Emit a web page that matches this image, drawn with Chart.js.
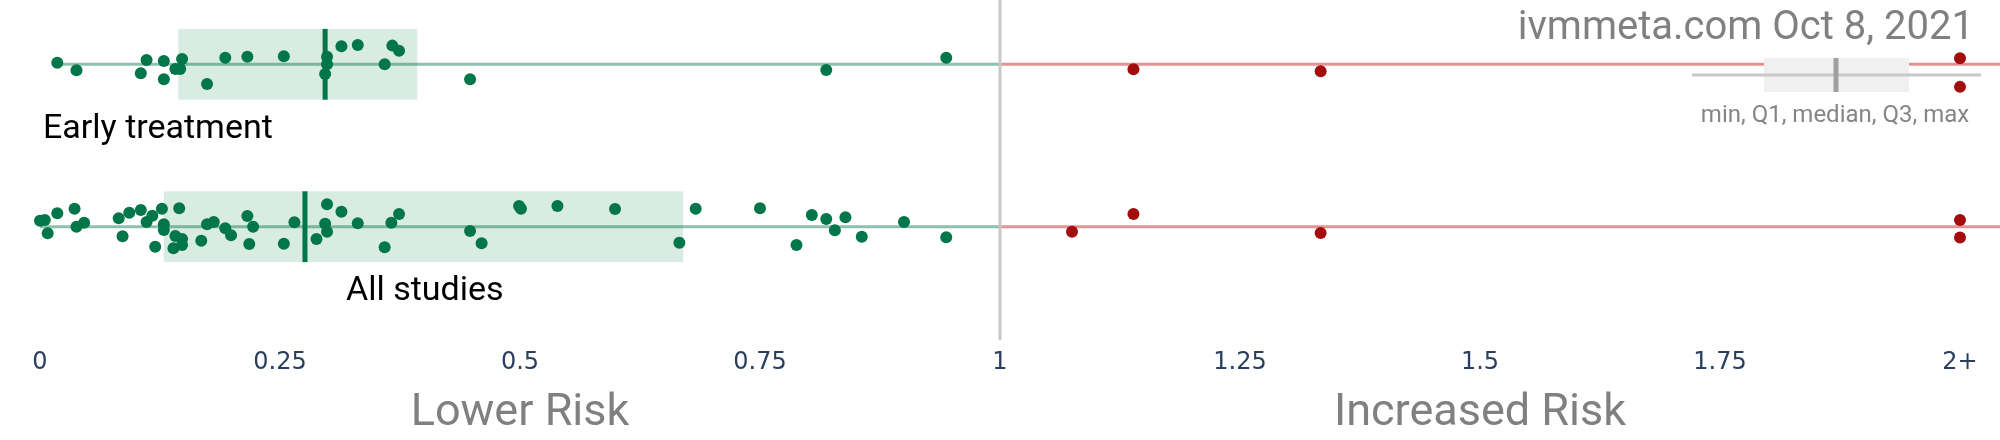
<!DOCTYPE html>
<html>
<head>
<meta charset="utf-8">
<script src="https://cdn.jsdelivr.net/npm/chart.js@4"></script>
<style>
  html, body { margin: 0; padding: 0; background: #fff; }
  #wrap { width: 2000px; height: 440px; position: relative; }
</style>
</head>
<body>
<div id="wrap"><canvas id="chart"></canvas></div>
<script>
// Risk ratio of each study, with a small vertical jitter (fraction of row spacing)
const tickValues = [0, 0.25, 0.5, 0.75, 1, 1.25, 1.5, 1.75, 2];
const tickLabels = ['0', '0.25', '0.5', '0.75', '1', '1.25', '1.5', '1.75', '2+'];
const rowLabels = ['Early treatment', 'All studies'];

const earlyRR = [0.018, 0.038, 0.111, 0.105, 0.129, 0.129, 0.148, 0.141, 0.146, 0.174,
  0.193, 0.216, 0.254, 0.299, 0.299, 0.297, 0.314, 0.331, 0.359, 0.367,
  0.374, 0.448, 0.819, 0.944, 1.139, 1.334, 2, 2];
const earlyJitter = [-0.010, 0.037, -0.026, 0.055, -0.020, 0.092, -0.033, 0.029, 0.029, 0.121,
  -0.041, -0.047, -0.049, -0.047, 0, 0.060, -0.111, -0.119, 0, -0.115,
  -0.084, 0.092, 0.035, -0.041, 0.031, 0.043, -0.037, 0.139];

const allRR = [0.000, 0.005, 0.008, 0.018, 0.036, 0.038, 0.046, 0.082, 0.086, 0.093,
  0.105, 0.111, 0.117, 0.120, 0.127, 0.129, 0.129, 0.145, 0.141, 0.148,
  0.139, 0.148, 0.168, 0.174, 0.181, 0.193, 0.199, 0.216, 0.222, 0.218,
  0.254, 0.265, 0.288, 0.299, 0.297, 0.299, 0.314, 0.331, 0.359, 0.366,
  0.374, 0.448, 0.460, 0.499, 0.501, 0.539, 0.599, 0.666, 0.683, 0.750,
  0.788, 0.804, 0.819, 0.828, 0.839, 0.856, 0.900, 0.944, 1.075, 1.139,
  1.334, 2, 2];
const allJitter = [-0.037, -0.041, 0.041, -0.083, -0.111, 0, -0.025, -0.052, 0.059, -0.086,
  -0.103, -0.029, -0.068, 0.123, -0.111, -0.015, 0.020, -0.113, 0.057, 0.076,
  0.133, 0.113, 0.086, -0.015, -0.029, 0.010, 0.053, -0.066, 0, 0.107,
  0.105, -0.027, 0.076, -0.138, -0.018, 0.031, -0.092, -0.021, 0.127, -0.025,
  -0.078, 0.026, 0.102, -0.127, -0.111, -0.127, -0.109, 0.099, -0.111, -0.113,
  0.113, -0.072, -0.047, 0.022, -0.058, 0.062, -0.029, 0.065, 0.031, -0.078,
  0.039, -0.041, 0.066];

// [Q1, median, Q3]
const earlyBox = [0.144, 0.297, 0.393];
const allBox = [0.129, 0.276, 0.670];

const GREEN = '#00764a';
const RED = '#a30d0d';
const BOX_HALF = 0.218;

const rows = [
  { rr: earlyRR, jitter: earlyJitter, box: earlyBox },
  { rr: allRR, jitter: allJitter, box: allBox }
];

function pointColor(ctx) {
  const p = ctx.raw;
  return p && p.x >= 1 ? RED : GREEN;
}

const decor = {
  id: 'decor',
  beforeDatasetsDraw(chart) {
    const { ctx, chartArea: area } = chart;
    const x = chart.scales.x, y = chart.scales.y;
    ctx.save();

    rows.forEach((row, i) => {
      // IQR box
      ctx.fillStyle = 'rgba(0,128,64,0.15)';
      const top = y.getPixelForValue(i - BOX_HALF), bot = y.getPixelForValue(i + BOX_HALF);
      ctx.fillRect(x.getPixelForValue(row.box[0]), top,
        x.getPixelForValue(row.box[2]) - x.getPixelForValue(row.box[0]), bot - top);

      // range lines
      const yc = y.getPixelForValue(i);
      ctx.lineWidth = 3;
      ctx.strokeStyle = 'rgba(0,118,74,0.45)';
      ctx.beginPath();
      ctx.moveTo(x.getPixelForValue(Math.min(...row.rr)), yc);
      ctx.lineTo(x.getPixelForValue(1), yc);
      ctx.stroke();
      ctx.strokeStyle = 'rgba(200,40,40,0.5)';
      ctx.beginPath();
      ctx.moveTo(x.getPixelForValue(1), yc);
      ctx.lineTo(area.right, yc);
      ctx.stroke();
    });

    // no-effect line
    ctx.strokeStyle = '#c8c8c8';
    ctx.lineWidth = 3;
    ctx.beginPath();
    ctx.moveTo(x.getPixelForValue(1), area.top);
    ctx.lineTo(x.getPixelForValue(1), area.bottom);
    ctx.stroke();

    // medians
    rows.forEach((row, i) => {
      ctx.strokeStyle = GREEN;
      ctx.lineWidth = 5;
      ctx.beginPath();
      ctx.moveTo(x.getPixelForValue(row.box[1]), y.getPixelForValue(i - BOX_HALF));
      ctx.lineTo(x.getPixelForValue(row.box[1]), y.getPixelForValue(i + BOX_HALF));
      ctx.stroke();
    });

    // legend inset
    ctx.fillStyle = '#f0f0f0';
    ctx.fillRect(1764, 58, 145, 34);
    ctx.strokeStyle = '#c8c8c8';
    ctx.lineWidth = 3;
    ctx.beginPath();
    ctx.moveTo(1692, 75);
    ctx.lineTo(1981, 75);
    ctx.stroke();
    ctx.strokeStyle = '#a0a0a0';
    ctx.lineWidth = 5;
    ctx.beginPath();
    ctx.moveTo(1836, 58);
    ctx.lineTo(1836, 92);
    ctx.stroke();

    ctx.fillStyle = '#858585';
    ctx.font = '24px Roboto';
    ctx.textAlign = 'center';
    ctx.textBaseline = 'alphabetic';
    ctx.fillText('min, Q1, median, Q3, max', 1835, 122);

    ctx.fillStyle = '#808080';
    ctx.font = '40px Roboto';
    ctx.textAlign = 'right';
    ctx.fillText('ivmmeta.com Oct 8, 2021', chart.width - 26, 39);
    ctx.restore();
  },
  afterDraw(chart) {
    const { ctx } = chart;
    const x = chart.scales.x;
    ctx.save();
    ctx.textBaseline = 'alphabetic';
    ctx.fillStyle = '#000';
    ctx.font = '34px Roboto';
    ctx.textAlign = 'left';
    ctx.fillText(rowLabels[0], 43, 138);
    ctx.fillText(rowLabels[1], 346, 300);

    ctx.fillStyle = '#808080';
    ctx.font = '45px Roboto';
    ctx.textAlign = 'center';
    ctx.fillText('Lower Risk', x.getPixelForValue(0.5), 425);
    ctx.fillText('Increased Risk', x.getPixelForValue(1.5), 425);
    ctx.restore();
  }
};

const datasets = rows.map((row, i) => ({
  type: 'scatter',
  data: row.rr.map((v, k) => ({ x: v, y: i + row.jitter[k] })),
  pointRadius: 6,
  pointBackgroundColor: pointColor,
  pointBorderWidth: 0,
  clip: false
}));

new Chart(document.getElementById('chart'), {
  type: 'scatter',
  data: { datasets },
  options: {
    responsive: true,
    maintainAspectRatio: false,
    animation: false,
    layout: { padding: 0, autoPadding: false },
    plugins: { legend: { display: false }, tooltip: { enabled: false } },
    scales: {
      x: {
        type: 'linear',
        min: -40 / 960,
        max: 1960 / 960,
        grid: { display: false },
        border: { display: false },
        afterBuildTicks: (scale) => { scale.ticks = tickValues.map(v => ({ value: v })); },
        afterFit: (scale) => { scale.height = 100; },
        ticks: {
          autoSkip: false,
          maxRotation: 0,
          padding: 0,
          color: '#2a3f5f',
          font: { size: 24, family: 'DejaVu Sans' },
          callback: (val) => tickLabels[tickValues.indexOf(val)]
        }
      },
      y: {
        type: 'linear',
        reverse: true,
        min: -64.3 / 162.4,
        max: (340 - 64.3) / 162.4,
        display: false
      }
    }
  },
  plugins: [decor]
});
</script>
</body>
</html>
